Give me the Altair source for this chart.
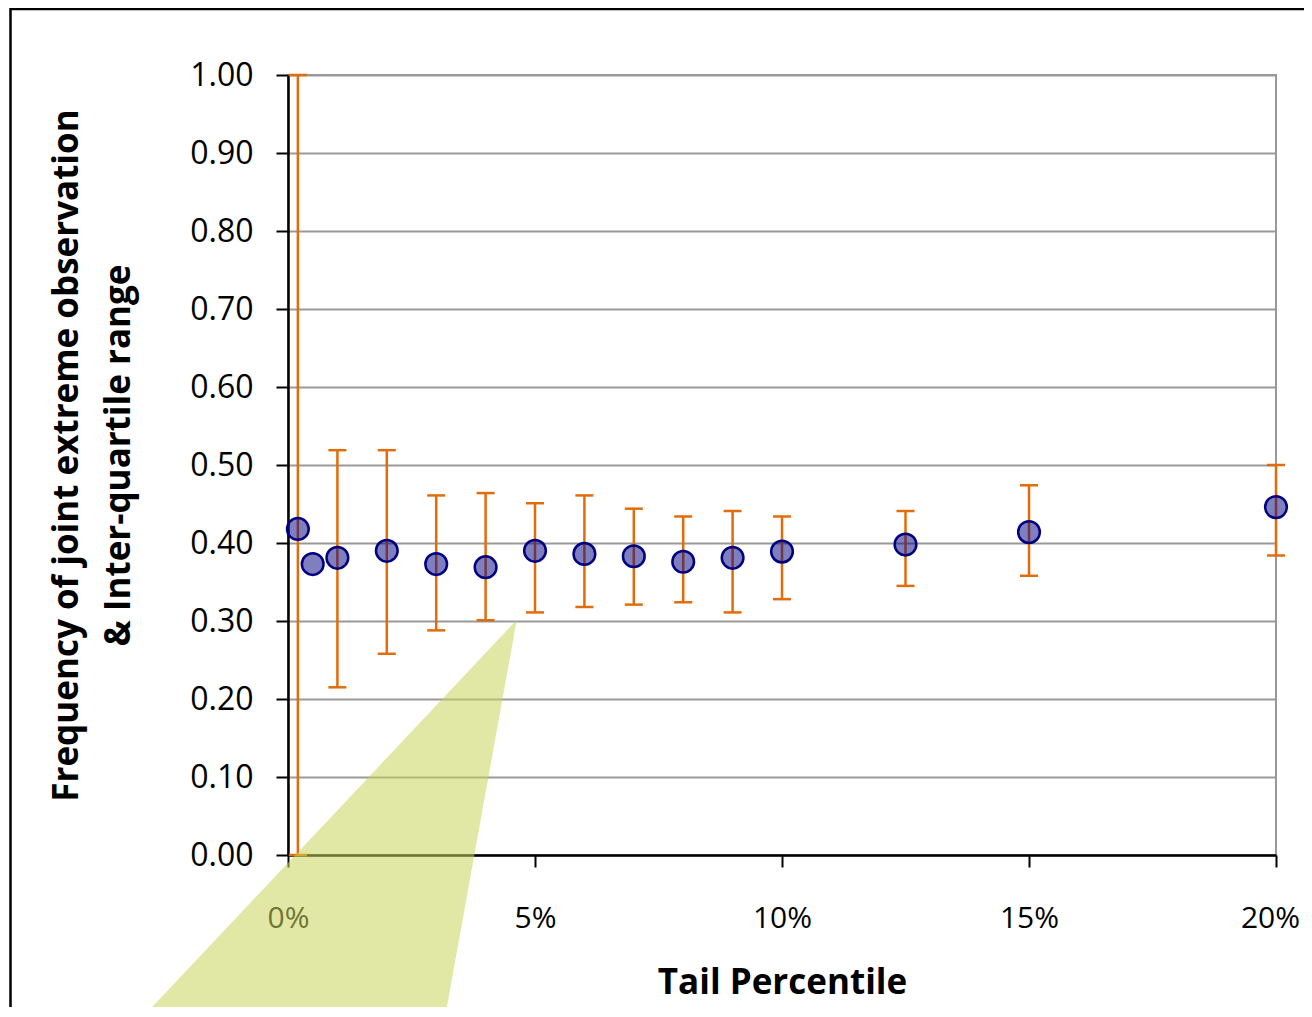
import altair as alt
import pandas as pd

# ---- data ----
tail_pct = [0.002, 0.005, 0.01, 0.02, 0.03, 0.04, 0.05, 0.06, 0.07, 0.08, 0.09, 0.10, 0.125, 0.15, 0.20]
joint_freq = [0.418, 0.373, 0.381, 0.390, 0.373, 0.369, 0.390, 0.386, 0.383, 0.376, 0.381, 0.389, 0.398, 0.414, 0.446]
iqr_low = [0.0, None, 0.215, 0.258, 0.288, 0.301, 0.311, 0.318, 0.321, 0.324, 0.311, 0.328, 0.345, 0.358, 0.384]
iqr_high = [1.0, None, 0.519, 0.519, 0.461, 0.464, 0.451, 0.461, 0.444, 0.434, 0.441, 0.434, 0.441, 0.474, 0.500]

x_ticks = [0.0, 0.05, 0.10, 0.15, 0.20]
y_ticks = [0.0, 0.1, 0.2, 0.3, 0.4, 0.5, 0.6, 0.7, 0.8, 0.9, 1.0]

# stray callout shape visible in the reference (data space)
callout_y = [0.3013, -0.25]
callout_x_left = [0.0463, -0.0357]
callout_x_right = [0.0463, 0.0306]

y_title = ["Frequency of joint extreme observation", "& Inter-quartile range"]
x_title = "Tail Percentile"

df = pd.DataFrame({"tail": tail_pct, "freq": joint_freq, "lo": iqr_low, "hi": iqr_high})
callout = pd.DataFrame({"cy": callout_y, "cxl": callout_x_left, "cxr": callout_x_right})
frame = pd.DataFrame({"k": [0]})

FONT = "Open Sans"
ORANGE = "#E36C0A"
NAVY = "#000080"

xs = alt.Scale(domain=[0, 0.2], nice=False, zero=False)
ys = alt.Scale(domain=[0, 1], nice=False, zero=False)

x_axis = alt.Axis(
    values=x_ticks, format=".0%", grid=False, title=x_title,
    labelFont=FONT, labelFontSize=30, labelColor="black", labelPadding=36,
    labelFlush=False, labelOverlap=False,
    labelOffset=alt.condition("datum.value >= 0.2", alt.value(-6), alt.value(0)),
    tickColor="black", tickWidth=2, tickSize=12,
    domainColor="black", domainWidth=2.5,
    titleFont=FONT, titleFontSize=35, titleFontWeight="bold", titleColor="black",
    titleX=494, titleY=138, titleAlign="center", titleBaseline="alphabetic", titleAngle=0,
)
y_axis = alt.Axis(
    values=y_ticks, format=".2f", grid=True, gridColor="#999999", gridWidth=2,
    title=y_title,
    labelFont=FONT, labelFontSize=32, labelColor="black", labelPadding=23,
    labelFlush=False, labelOverlap=False,
    tickColor="black", tickWidth=2, tickSize=12,
    domainColor="black", domainWidth=2.5,
    titleFont=FONT, titleFontSize=35, titleFontWeight="bold", titleColor="black",
    titleAngle=270, titleX=-239, titleY=380, titleAlign="center", titleBaseline="top",
    titleLineHeight=52,
)

base = alt.Chart(df)

border = alt.Chart(frame).mark_rect(
    fillOpacity=0, stroke="black", strokeWidth=2.5
).encode(
    x=alt.value(-277.5), x2=alt.value(1060), y=alt.value(-66), y2=alt.value(980)
)

valid = base.transform_filter("isValid(datum.lo) && isValid(datum.hi)")

bars = valid.mark_rule(color=ORANGE, strokeWidth=2.5).encode(
    x=alt.X("tail:Q", scale=xs, axis=x_axis),
    y=alt.Y("lo:Q", scale=ys, axis=y_axis),
    y2="hi:Q",
)
cap_hi = valid.mark_rule(color=ORANGE, strokeWidth=2.5, xOffset=-9, x2Offset=9).encode(
    x=alt.X("tail:Q", scale=xs, axis=x_axis),
    x2="tail:Q",
    y=alt.Y("hi:Q", scale=ys, axis=y_axis),
)
cap_lo = valid.mark_rule(color=ORANGE, strokeWidth=2.5, xOffset=-9, x2Offset=9).encode(
    x=alt.X("tail:Q", scale=xs, axis=x_axis),
    x2="tail:Q",
    y=alt.Y("lo:Q", scale=ys, axis=y_axis),
)
points = base.mark_circle(
    size=470, fill=NAVY, fillOpacity=0.5, stroke=NAVY, strokeWidth=2.5, strokeOpacity=1, opacity=1
).encode(
    x=alt.X("tail:Q", scale=xs, axis=x_axis),
    y=alt.Y("freq:Q", scale=ys, axis=y_axis),
)
tri = alt.Chart(callout).mark_area(
    orient="horizontal", color="#C9D35A", fillOpacity=0.55, clip=False
).encode(
    y=alt.Y("cy:Q", scale=ys, axis=y_axis),
    x=alt.X("cxl:Q", scale=xs, axis=x_axis),
    x2="cxr:Q",
)

chart = alt.layer(border, bars, cap_hi, cap_lo, points, tri).properties(
    width=988, height=780,
    autosize=alt.AutoSizeParams(type="none"),
    padding={"left": 280, "top": 67, "right": 28, "bottom": 152},
    background="white",
).configure_view(stroke="#999999", strokeWidth=2)

chart.save("out.html", embed_options={"renderer": "svg", "actions": False})
